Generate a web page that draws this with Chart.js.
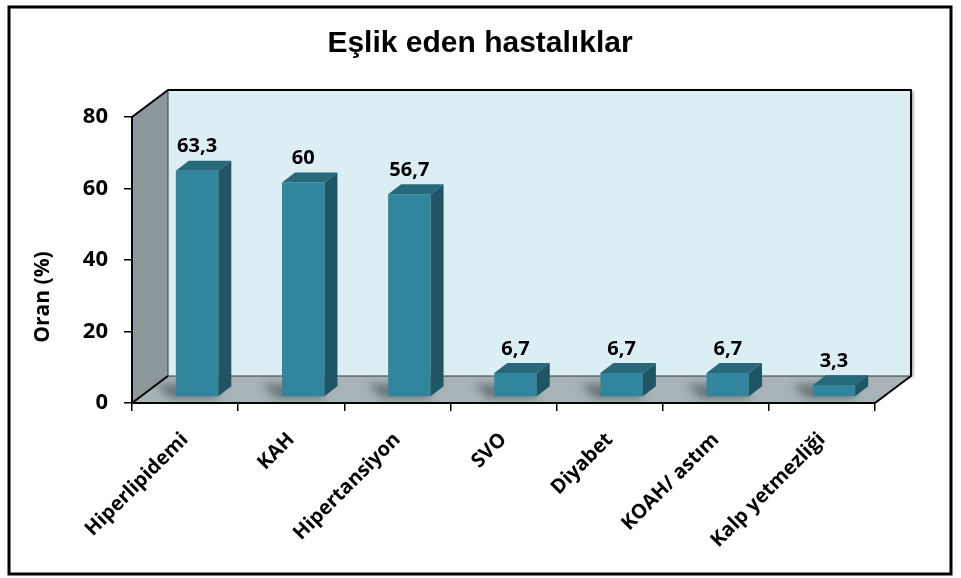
<!DOCTYPE html>
<html>
<head>
<meta charset="utf-8">
<script src="https://cdn.jsdelivr.net/npm/chart.js@4.4.0/dist/chart.umd.min.js"></script>
<style>
html, body { margin: 0; padding: 0; background: #fff; }
#wrap { width: 961px; height: 578px; }
</style>
</head>
<body>
<div id="wrap"><canvas id="chart" width="961" height="578"></canvas></div>
<script>
const chartTitle = 'Eşlik eden hastalıklar';
const axisTitle = 'Oran (%)';
const categories = ['Hiperlipidemi', 'KAH', 'Hipertansiyon', 'SVO', 'Diyabet', 'KOAH/ astım', 'Kalp yetmezliği'];
const rates = [63.3, 60, 56.7, 6.7, 6.7, 6.7, 3.3];
const yTicks = [0, 20, 40, 60, 80];

// 3d look of the old excel chart
const wallDepth = { x: 36, y: -27 };
const barShift = { x: 12, y: -6 };
const barDepth = { x: 13, y: -10 };
const colors = {
    backWall: '#dbeef3',
    sideWall: '#8d989c',
    floor: '#a7b3b6',
    barFront: '#31859c',
    barTop: '#26697b',
    barSide: '#1f5565'
};
const fontFamily = '"Open Sans"';
const labelFont = 'bold 20px ' + fontFamily;

function poly(ctx, pts, fill) {
    ctx.beginPath();
    ctx.moveTo(pts[0][0], pts[0][1]);
    for (let i = 1; i < pts.length; i++) ctx.lineTo(pts[i][0], pts[i][1]);
    ctx.closePath();
    if (fill) {
        ctx.fillStyle = fill;
        ctx.fill();
    }
}

function line(ctx, x1, y1, x2, y2) {
    ctx.beginPath();
    ctx.moveTo(x1, y1);
    ctx.lineTo(x2, y2);
    ctx.stroke();
}

const scene3d = {
    id: 'scene3d',
    beforeDraw(chart) {
        const { ctx, chartArea: a } = chart;
        const dx = wallDepth.x, dy = wallDepth.y;
        const L = a.left, R = a.right, T = a.top, B = a.bottom;
        ctx.save();
        ctx.fillStyle = '#fff';
        ctx.fillRect(0, 0, chart.width, chart.height);

        // back wall with a soft shadow on the right
        ctx.save();
        ctx.shadowColor = 'rgba(0,0,0,0.45)';
        ctx.shadowBlur = 3;
        ctx.shadowOffsetX = 2;
        ctx.shadowOffsetY = 1;
        poly(ctx, [[L + dx, T + dy], [R + dx, T + dy], [R + dx, B + dy], [L + dx, B + dy]], colors.backWall);
        ctx.restore();
        poly(ctx, [[L, T], [L + dx, T + dy], [L + dx, B + dy], [L, B]], colors.sideWall);
        poly(ctx, [[L, B], [L + dx, B + dy], [R + dx, B + dy], [R, B]], colors.floor);

        ctx.strokeStyle = '#3a3a3a';
        ctx.lineWidth = 1;
        line(ctx, L + dx, T + dy, L + dx, B + dy);
        line(ctx, L + dx, B + dy, R + dx, B + dy);

        ctx.strokeStyle = '#000';
        ctx.lineWidth = 2;
        ctx.lineJoin = 'round';
        ctx.beginPath();
        ctx.moveTo(L, T);
        ctx.lineTo(L + dx, T + dy);
        ctx.lineTo(R + dx, T + dy);
        ctx.lineTo(R + dx, B + dy);
        ctx.lineTo(R, B);
        ctx.stroke();
        line(ctx, L, B, L + dx, B + dy);
        ctx.restore();
    },
    beforeDatasetsDraw(chart) {
        const ctx = chart.ctx;
        ctx.save();
        ctx.translate(barShift.x, barShift.y);
        // blurred shadows behind the bars
        chart.getDatasetMeta(0).data.forEach((bar) => {
            const { x, base, width } = bar.getProps(['x', 'base', 'width'], true);
            const l = x - width / 2;
            ctx.save();
            ctx.filter = 'blur(4px)';
            poly(ctx, [[l - 6, base + 2], [l + width, base + 2], [l + width - 4, base - 12], [l - 20, base - 12]], 'rgba(30,40,45,0.45)');
            ctx.restore();
        });
    },
    afterDatasetsDraw(chart) {
        const ctx = chart.ctx;
        const meta = chart.getDatasetMeta(0);
        const bx = barDepth.x, by = barDepth.y;
        meta.data.forEach((bar, i) => {
            const { x, y, base, width } = bar.getProps(['x', 'y', 'base', 'width'], true);
            const l = x - width / 2, r = x + width / 2;
            poly(ctx, [[l, y], [r, y], [r + bx, y + by], [l + bx, y + by]], colors.barTop);
            poly(ctx, [[r, y], [r + bx, y + by], [r + bx, base + by], [r, base]], colors.barSide);

            ctx.font = labelFont;
            ctx.fillStyle = '#000';
            ctx.textAlign = 'center';
            ctx.textBaseline = 'middle';
            ctx.fillText(String(rates[i]).replace('.', ','), x, y - 24);
        });
        ctx.restore();
    },
    afterDraw(chart) {
        const ctx = chart.ctx;
        ctx.save();
        ctx.fillStyle = '#000';
        ctx.textAlign = 'center';
        ctx.textBaseline = 'alphabetic';
        ctx.font = 'bold 30px "Liberation Sans", Arial, sans-serif';
        ctx.fillText(chartTitle, 480, 52);

        ctx.translate(43, 297);
        ctx.rotate(-Math.PI / 2);
        ctx.font = 'bold 21px ' + fontFamily;
        ctx.textBaseline = 'middle';
        ctx.fillText(axisTitle, 0, 0);
        ctx.restore();

        ctx.save();
        ctx.strokeStyle = '#000';
        ctx.lineWidth = 3;
        ctx.strokeRect(9, 7, 942, 567);
        ctx.restore();
    }
};

const ctx = document.getElementById('chart').getContext('2d');
new Chart(ctx, {
    type: 'bar',
    data: {
        labels: categories,
        datasets: [{
            data: rates,
            backgroundColor: colors.barFront,
            borderWidth: 0,
            barPercentage: 0.4,
            categoryPercentage: 1,
            clip: false
        }]
    },
    options: {
        responsive: false,
        animation: false,
        events: [],
        layout: { padding: { top: 117, right: 86, bottom: 0, left: 0 } },
        plugins: {
            legend: { display: false },
            title: { display: false },
            tooltip: { enabled: false }
        },
        scales: {
            x: {
                grid: { display: true, drawOnChartArea: false, offset: true, color: '#000', lineWidth: 1.5, tickLength: 8 },
                border: { display: true, color: '#000', width: 2 },
                ticks: { color: '#000', font: { family: 'Open Sans', size: 20, weight: 'bold' }, maxRotation: 45, minRotation: 45, padding: 17, autoSkip: false },
                afterFit(scale) { scale.height = 175; }
            },
            y: {
                min: 0,
                max: 80,
                afterBuildTicks(scale) { scale.ticks = yTicks.map((v) => ({ value: v })); },
                grid: { display: true, drawOnChartArea: false, color: '#000', lineWidth: 1.5, tickLength: 8 },
                border: { display: true, color: '#000', width: 2 },
                ticks: { color: '#000', font: { family: 'Open Sans', size: 22, weight: 'bold' }, padding: 16 },
                afterFit(scale) { scale.width = 132; }
            }
        }
    },
    plugins: [scene3d]
});
</script>
</body>
</html>
